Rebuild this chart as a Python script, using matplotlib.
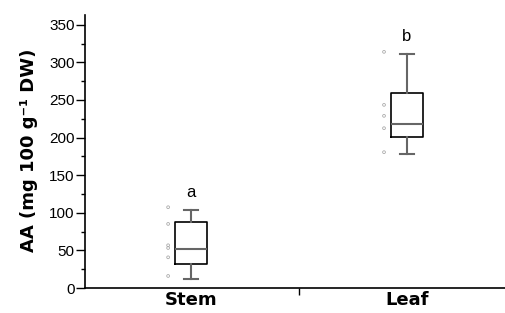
import matplotlib
matplotlib.use("Agg")
import matplotlib.pyplot as plt
from matplotlib.ticker import MultipleLocator

plt.rcParams['font.family'] = ['Liberation Sans', 'DejaVu Sans']

categories = ["Stem", "Leaf"]
whislo = [12.4, 177.9]
q1 = [31.9, 200.5]
med = [52.3, 217.8]
q3 = [87.4, 259.5]
whishi = [103.8, 311.8]
stem_points = [107.4, 85.2, 56.8, 53.2, 40.8, 16.0]
leaf_points = [314.0, 243.5, 228.9, 212.5, 180.6]
letters = ["a", "b"]
letter_y = [127, 335]

fig = plt.figure(figsize=(5.06, 3.13), dpi=100)
ax = fig.add_axes([85/506, 25/313, 1 - 85/506, (288-15)/313])

stats = []
for i, c in enumerate(categories):
    stats.append(dict(label=c, whislo=whislo[i], q1=q1[i], med=med[i], q3=q3[i], whishi=whishi[i], fliers=[]))
pos = [1, 2]
ax.bxp(stats, positions=pos, widths=0.148, showfliers=False,
       boxprops=dict(color='black', linewidth=1.2),
       whiskerprops=dict(color='#666666', linewidth=1.5),
       capprops=dict(color='#666666', linewidth=1.5),
       medianprops=dict(color='#666666', linewidth=1.5),
       capwidths=0.065)

for p, pts in zip(pos, [stem_points, leaf_points]):
    ax.scatter([p - 0.105] * len(pts), pts, s=4, facecolors='none', edgecolors='#aaaaaa', linewidths=0.6, zorder=3)

for p, l, y in zip(pos, letters, letter_y):
    ax.text(p, y, l, ha='center', va='center', fontsize=12)

bold_font = dict(family='DejaVu Sans', weight='bold', size=13)

ax.set_xlim(0.51, 2.46)
ax.set_ylim(0, 363)
ax.set_xticks([1.5])
ax.set_xticklabels([""])
ax.set_xticks(pos, minor=True)
ax.set_xticklabels(categories, minor=True, fontdict=bold_font)
ax.tick_params(axis='x', which='minor', length=0, pad=2)
ax.tick_params(axis='x', which='major', length=5, direction='out', width=1)
ax.yaxis.set_major_locator(MultipleLocator(50))
ax.yaxis.set_minor_locator(MultipleLocator(25))
ax.tick_params(axis='y', which='major', length=6.5, width=1, labelsize=11, pad=1)
ax.tick_params(axis='y', which='minor', length=3, width=1)
ax.spines['top'].set_visible(False)
ax.spines['right'].set_visible(False)
ax.spines['left'].set_linewidth(1.2)
ax.spines['bottom'].set_linewidth(1.2)
ax.set_ylabel("AA (mg 100 g\u207b\u00b9 DW)", fontdict=bold_font)
ax.yaxis.set_label_coords(-0.112, 0.505)

fig.savefig("out.png", dpi=100)
